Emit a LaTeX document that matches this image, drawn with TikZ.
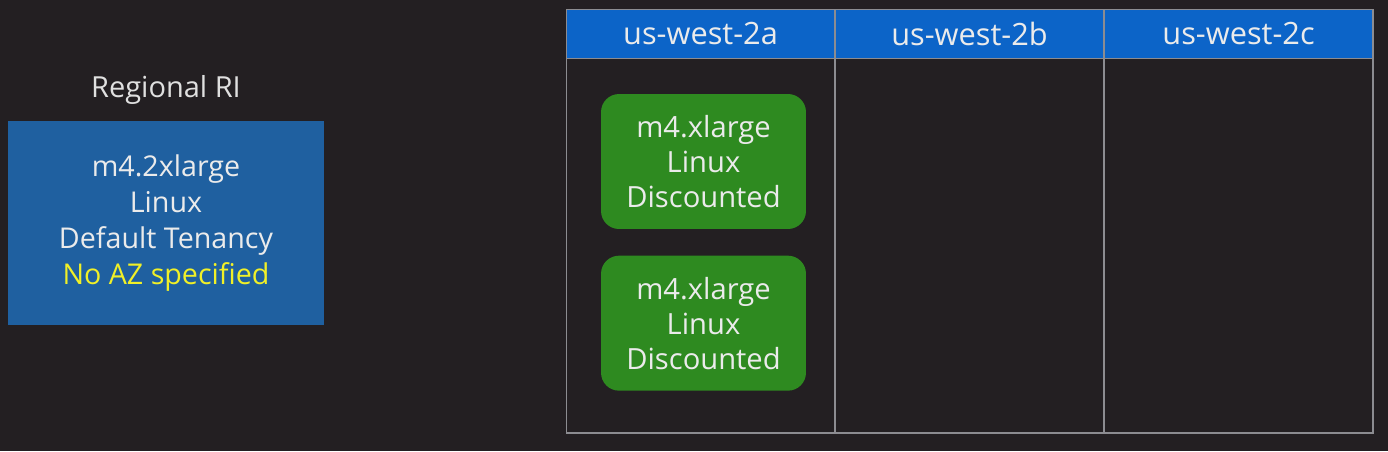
\documentclass[tikz,border=0pt]{standalone}
\usepackage{fontspec}
\setmainfont{Open Sans}
\usepackage{tikz}
\usetikzlibrary{positioning}
\definecolor{night}{RGB}{35,31,34}
\definecolor{ocean}{RGB}{31,96,160}
\definecolor{azure}{RGB}{12,100,200}
\definecolor{leaf}{RGB}{46,138,32}
\definecolor{lemon}{RGB}{240,240,40}
\definecolor{chalk}{RGB}{235,235,235}
\definecolor{rule}{RGB}{140,140,145}
\tikzset{
  ri box/.style={fill=#1,minimum width=6.32cm,minimum height=4.08cm,align=center,
    text=chalk,font=\fontsize{16.3}{20.5}\selectfont},
  ri box/.default=ocean,
  az head/.style={fill=azure,draw=rule,line width=0.6pt,minimum width=5.38cm,
    minimum height=0.97cm,text=chalk,font=\fontsize{17.5}{20}\selectfont},
  az body/.style={draw=rule,line width=0.6pt,minimum width=5.38cm,minimum height=7.5cm},
  inst/.style={fill=leaf,rounded corners=0.36cm,minimum width=4.1cm,minimum height=2.7cm,
    align=center,text=chalk,font=\fontsize{16.6}{19.9}\selectfont},
  tag/.style={text=chalk!90!gray,font=\fontsize{16.5}{19}\selectfont},
}
\begin{document}
\begin{tikzpicture}[x=0.02cm,y=-0.02cm]
  \fill[night] (0,0) rectangle (1388,451);
  \useasboundingbox (0,0) rectangle (1388,451);
  % regional reservation
  \node[ri box] (ri) at (166,223) {m4.2xlarge\\Linux\\Default Tenancy\\\textcolor{lemon}{No AZ specified}};
  \node[tag,above=0.2cm of ri] (rilabel) {Regional RI};
  % availability zones
  \foreach \z/\x in {a/700.5,b/969.5,c/1238.5}{
    \node[az body] (body\z) at (\x,245.5) {};
    \node[az head] (head\z) at (\x,34) {us-west-2\z};
  }
  \node[inst] (vm1) at (703.5,161.5) {m4.xlarge\\Linux\\Discounted};
  \node[inst,below=0.52cm of vm1] (vm2) {m4.xlarge\\Linux\\Discounted};
\end{tikzpicture}
\end{document}
